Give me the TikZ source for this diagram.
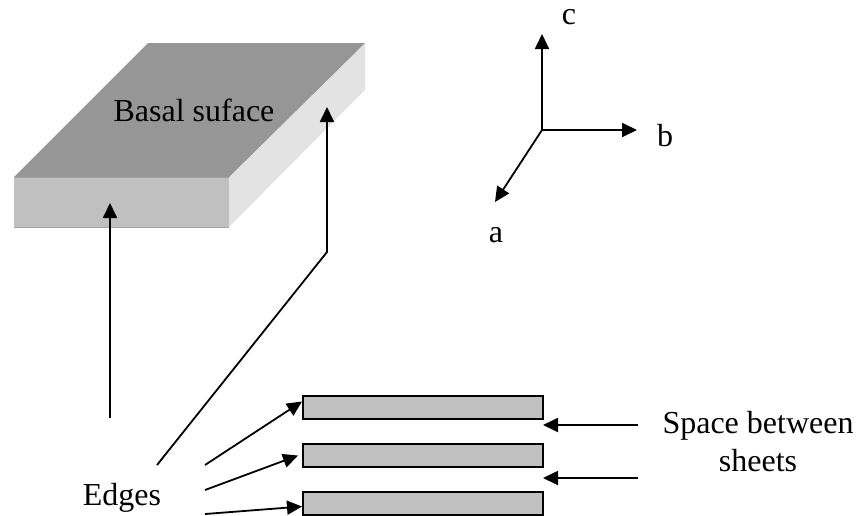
\documentclass[tikz,border=0pt]{standalone}
\usepackage{fontspec}
\setmainfont{Liberation Serif}
\usetikzlibrary{arrows.meta,calc}
\definecolor{topface}{RGB}{150,150,150}
\definecolor{frontface}{RGB}{192,192,192}
\definecolor{sideface}{RGB}{227,227,227}
\definecolor{faceedge}{RGB}{165,165,165}
\begin{document}
\begin{tikzpicture}[x=1pt,y=-1pt,
  lbl/.style={font=\fontsize{32}{38}\selectfont, inner sep=0pt, anchor=base},
  arr/.style={line width=1.8pt, -{Triangle[length=15pt,width=14pt]}},
  sheet/.style={draw=black, line width=2pt, fill=frontface, minimum width=240pt, minimum height=23pt, inner sep=0pt, anchor=north west}
]
\useasboundingbox (0,0) rectangle (858,515);

% clay platelet: top (basal) face, front and side faces
\fill[frontface] (14,177) rectangle (229,227);
\draw[faceedge, line width=0.8pt] (14,177) -- (229,177) (14,227) -- (229,227);
\fill[sideface] (229,177) -- (365,43) -- (365,90) -- (229,227) -- cycle;
\fill[topface] (14,177) -- (148,43) -- (365,43) -- (229,177) -- cycle;
\node[lbl] (basal) at (194,121) {Basal suface};

% crystal axes
\coordinate (o) at (542,130);
\node[lbl] (c) at (569,24) {c};
\node[lbl] (b) at (665,146) {b};
\node[lbl] (a) at (496,242) {a};
\coordinate (ctip) at (542,34);
\coordinate (btip) at (637,130);
\coordinate (atip) at (495,202);
\draw[arr] (o) -- (ctip);
\draw[arr] (o) -- (btip);
\draw[arr] (o) -- (atip);

% edge pointers to the platelet
\coordinate (e1s) at (110,418);
\coordinate (e1t) at (110,203);
\coordinate (e2s) at (157,465);
\coordinate (e2k) at (327,252);
\coordinate (e2t) at (327,107);
\draw[arr] (e1s) -- (e1t);
\draw[arr] (e2s) -- (e2k) -- (e2t);

% stacked sheets
\node[sheet] (s1) at (302,395) {};
\node[sheet] (s2) at (302,443) {};
\node[sheet] (s3) at (302,491) {};

% edges label and arrows
\node[lbl] (edges) at (122,505) {Edges};
\coordinate (ea) at (205,465);
\coordinate (eb) at (205,490);
\coordinate (ec) at (205,514);
\draw[arr] (ea) -- ($(s1.west)+(0,-6)$);
\draw[arr] (eb) -- ($(s2.west)+(-4,0)$);
\draw[arr] (ec) -- ($(s3.west)+(0,3)$);

% space between sheets
\node[lbl] (space) at (758,433) {Space between};
\node[lbl] (sheets) at (758,471) {sheets};
\coordinate (sp1) at (638,425);
\coordinate (sp2) at (638,478);
\draw[arr] (sp1) -- (543,425);
\draw[arr] (sp2) -- (543,478);
\end{tikzpicture}
\end{document}
